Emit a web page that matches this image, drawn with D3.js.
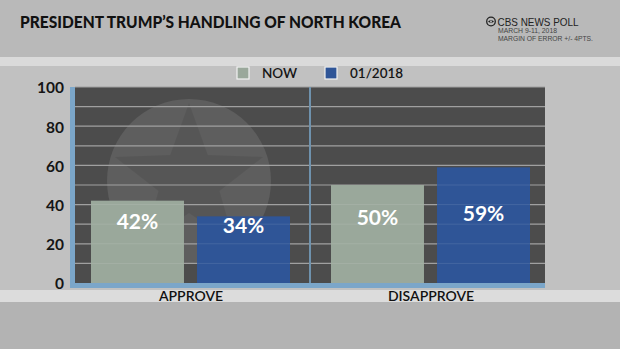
<!DOCTYPE html>
<html>
<head>
<meta charset="utf-8">
<script src="https://cdn.jsdelivr.net/npm/d3@7"></script>
<style>
  html, body { margin: 0; padding: 0; background: #bebebe; }
  svg { display: block; }
</style>
</head>
<body>
<svg id="chart" width="620" height="349"></svg>
<script>
// Poll results
const categories = ["APPROVE", "DISAPPROVE"];
const seriesNames = ["NOW", "01/2018"];
const nowValues = [42, 50];
const jan2018Values = [34, 59];
const yTicks = [0, 20, 40, 60, 80, 100];
const gridValues = [10, 20, 30, 40, 50, 60, 70, 80, 90, 100];

const colors = { "NOW": "#9aa89b", "01/2018": "#2f5597" };

const svg = d3.select("#chart");
const W = 620, H = 349;

// Backdrop bands
svg.append("rect").attr("x", 0).attr("y", 0).attr("width", W).attr("height", 57).attr("fill", "#b9b9b9");
svg.append("rect").attr("x", 0).attr("y", 57).attr("width", W).attr("height", 9).attr("fill", "#dadada");
svg.append("rect").attr("x", 0).attr("y", 66).attr("width", W).attr("height", 224).attr("fill", "#c1c1c1");
svg.append("rect").attr("x", 0).attr("y", 290).attr("width", W).attr("height", 12).attr("fill", "#dcdcdc");
svg.append("rect").attr("x", 0).attr("y", 302).attr("width", W).attr("height", 47).attr("fill", "#b3b3b3");

// Title block
svg.append("text")
  .attr("x", 20).attr("y", 28)
  .attr("font-family", "Lato, sans-serif")
  .attr("font-weight", 900)
  .attr("font-size", 16)
  .attr("fill", "#111")
  .attr("textLength", 381)
  .attr("lengthAdjust", "spacingAndGlyphs")
  .text("PRESIDENT TRUMP\u2019S HANDLING OF NORTH KOREA");

// CBS eye mark
const eye = svg.append("g").attr("transform", "translate(491,21.5)");
eye.append("circle").attr("r", 4.3).attr("fill", "none").attr("stroke", "#222").attr("stroke-width", 1.3);
eye.append("path").attr("d", "M-3,0 Q0,-2.6 3,0 Q0,2.6 -3,0 Z").attr("fill", "#222");
eye.append("circle").attr("r", 1).attr("fill", "#b9b9b9");

svg.append("text")
  .attr("x", 497.5).attr("y", 25.5)
  .attr("font-family", "Liberation Sans, Arial, sans-serif")
  .attr("font-size", 11).attr("fill", "#222")
  .attr("textLength", 81).attr("lengthAdjust", "spacingAndGlyphs")
  .text("CBS NEWS POLL");
svg.append("text")
  .attr("x", 498).attr("y", 33)
  .attr("font-family", "Liberation Sans, Arial, sans-serif")
  .attr("font-size", 6.5).attr("fill", "#444")
  .attr("textLength", 59).attr("lengthAdjust", "spacingAndGlyphs")
  .text("MARCH 9-11, 2018");
svg.append("text")
  .attr("x", 498).attr("y", 40.5)
  .attr("font-family", "Liberation Sans, Arial, sans-serif")
  .attr("font-size", 6.5).attr("fill", "#444")
  .attr("textLength", 95).attr("lengthAdjust", "spacingAndGlyphs")
  .text("MARGIN OF ERROR +/- 4PTS.");

// Plot geometry
const plot = { left: 75, right: 545, top: 87, bottom: 283 };

const y = d3.scaleLinear().domain([0, 100]).range([plot.bottom, plot.top]);
const x0 = d3.scaleBand().domain(categories).range([72, 552]).padding(0);
const x1 = d3.scaleBand().domain(seriesNames).range([19, 218]).paddingInner(0.123).paddingOuter(0);

// Plot panel
svg.append("rect")
  .attr("x", plot.left).attr("y", plot.top)
  .attr("width", plot.right - plot.left).attr("height", plot.bottom - plot.top)
  .attr("fill", "#4c4c4c");

// Star emblem watermark
const emblem = svg.append("g").attr("transform", "translate(189,181)");
emblem.append("circle").attr("r", 82).attr("fill", "rgba(255,255,255,0.10)");
const starPts = d3.range(10).map(i => {
  const r = i % 2 === 0 ? 78 : 32;
  const a = -Math.PI / 2 + i * Math.PI / 5;
  return [r * Math.cos(a), r * Math.sin(a)];
});
emblem.append("path")
  .attr("d", d3.line()(starPts) + "Z")
  .attr("fill", "rgba(0,0,0,0.08)");

// Horizontal grid
svg.append("g").selectAll("line")
  .data(gridValues)
  .join("line")
  .attr("x1", plot.left).attr("x2", plot.right)
  .attr("y1", d => y(d)).attr("y2", d => y(d))
  .attr("stroke", "#a0a0a0").attr("stroke-width", 1.2);

// Divider between categories
svg.append("line")
  .attr("x1", 310).attr("x2", 310)
  .attr("y1", plot.top).attr("y2", plot.bottom)
  .attr("stroke", "#6f92ad").attr("stroke-width", 2);

// Bars
const rows = categories.map((c, i) => ({
  category: c,
  values: [
    { series: "NOW", value: nowValues[i] },
    { series: "01/2018", value: jan2018Values[i] }
  ]
}));

const groups = svg.append("g").selectAll("g")
  .data(rows)
  .join("g")
  .attr("transform", d => `translate(${x0(d.category)},0)`);

groups.selectAll("rect")
  .data(d => d.values)
  .join("rect")
  .attr("x", d => x1(d.series))
  .attr("width", x1.bandwidth())
  .attr("y", d => y(d.value))
  .attr("height", d => y(0) - y(d.value))
  .attr("fill", d => colors[d.series]);

// Gridlines faintly visible through the bars
groups.each(function (row) {
  const g = d3.select(this);
  row.values.forEach(v => {
    g.selectAll(null)
      .data(gridValues.filter(t => t < v.value))
      .join("line")
      .attr("x1", x1(v.series)).attr("x2", x1(v.series) + x1.bandwidth())
      .attr("y1", t => y(t)).attr("y2", t => y(t))
      .attr("stroke", "rgba(255,255,255,0.10)").attr("stroke-width", 1);
  });
});

// Value labels, stacked in a band across the lower part of the panel
groups.selectAll("text.val")
  .data(d => d.values)
  .join("text")
  .attr("class", "val")
  .attr("x", d => x1(d.series) + x1.bandwidth() / 2)
  .attr("y", d => y(0) - 33 - d.value * 0.5)
  .attr("text-anchor", "middle")
  .attr("font-family", "Lato, sans-serif")
  .attr("font-weight", "bold")
  .attr("font-size", 21)
  .attr("fill", "#ffffff")
  .text(d => d.value + "%");

// Axis frame (blue L)
svg.append("rect")
  .attr("x", 70).attr("y", plot.top)
  .attr("width", 5).attr("height", plot.bottom - plot.top + 5)
  .attr("fill", "#7ba6c9");
svg.append("rect")
  .attr("x", 70).attr("y", plot.bottom)
  .attr("width", plot.right - 70).attr("height", 5)
  .attr("fill", "#7ba6c9");

// Y axis labels
const yAxis = d3.axisLeft(y).tickValues(yTicks).tickSize(0).tickPadding(0);
const yg = svg.append("g").attr("transform", "translate(64,1)").call(yAxis);
yg.select(".domain").remove();
yg.selectAll("text")
  .attr("font-family", "Lato, sans-serif")
  .attr("font-weight", "bold")
  .attr("font-size", 15.5)
  .attr("fill", "#151515");

// Category labels
const xAxis = d3.axisBottom(d3.scaleOrdinal().domain(categories)
  .range(categories.map(c => x0(c) + x1.range()[0] + (x1.range()[1] - x1.range()[0]) / 2)))
  .tickSize(0).tickPadding(0);
const xg = svg.append("g").attr("transform", "translate(0,291)").call(xAxis);
xg.select(".domain").remove();
xg.selectAll("text")
  .attr("font-family", "Lato, sans-serif")
  .attr("font-weight", "600")
  .attr("font-size", 14)
  .attr("fill", "#111");

// Legend
const legendX = [237, 325];
const legend = svg.append("g").selectAll("g")
  .data(seriesNames)
  .join("g")
  .attr("transform", (d, i) => `translate(${legendX[i]},67)`);
legend.append("rect")
  .attr("width", 12).attr("height", 12)
  .attr("fill", d => colors[d])
  .attr("stroke", "#f2f2f2").attr("stroke-width", 1.2);
legend.append("text")
  .attr("x", 25).attr("y", 10.5)
  .attr("font-family", "Lato, sans-serif")
  .attr("font-weight", "600")
  .attr("font-size", 13.5)
  .attr("fill", "#151515")
  .text(d => d);
</script>
</body>
</html>
